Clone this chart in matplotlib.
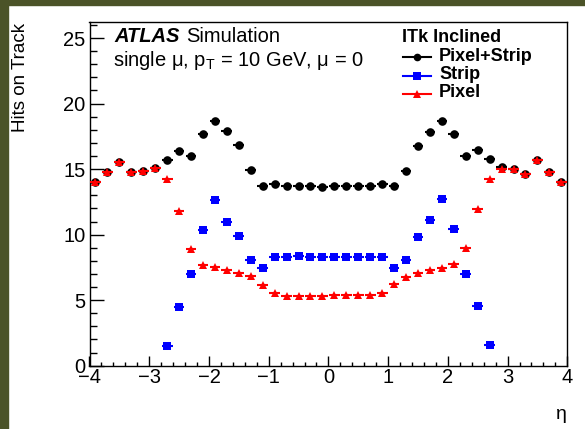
import numpy as np
import matplotlib
matplotlib.use("Agg")
import matplotlib.pyplot as plt
from matplotlib.lines import Line2D
from matplotlib.patches import Rectangle

plt.rcParams['font.family'] = ['Liberation Sans', 'DejaVu Sans']
plt.rcParams['mathtext.fontset'] = 'custom'
plt.rcParams['mathtext.rm'] = 'Liberation Sans'
plt.rcParams['mathtext.it'] = 'Liberation Sans:italic'

# ---- data (bin centres in eta, bin width 0.2) ----
eta = np.round(np.arange(-3.9, 4.0, 0.2), 1)

pixel_strip = [14.05, 14.81, 15.55, 14.81, 14.89, 15.11, 15.70, 16.39, 16.03, 17.66,
               18.65, 17.92, 16.87, 14.92, 13.69, 13.89, 13.72, 13.72, 13.69, 13.62,
               13.69, 13.69, 13.74, 13.69, 13.87, 13.69, 14.89, 16.77, 17.86, 18.70,
               17.66, 15.98, 16.49, 15.78, 15.19, 15.02, 14.63, 15.70, 14.81, 14.02]

strip = [0, 0, 0, 0, 0, 0, 1.53, 4.50, 7.02, 10.38,
         12.62, 10.97, 9.90, 8.04, 7.46, 8.32, 8.32, 8.37, 8.30, 8.30,
         8.30, 8.32, 8.32, 8.32, 8.32, 7.43, 8.04, 9.82, 11.10, 12.72,
         10.43, 7.00, 4.53, 1.60, 0, 0, 0, 0, 0, 0]

pixel = [14.05, 14.79, 15.55, 14.79, 14.86, 15.06, 14.23, 11.81, 8.93, 7.71,
         7.56, 7.33, 7.10, 6.85, 6.16, 5.52, 5.34, 5.30, 5.34, 5.28,
         5.36, 5.36, 5.36, 5.36, 5.57, 6.21, 6.77, 7.10, 7.33, 7.43,
         7.74, 8.98, 11.96, 14.23, 14.99, 15.02, 14.63, 15.70, 14.81, 14.02]

series_names = ["Pixel+Strip", "Strip", "Pixel"]
x_ticks = [-4, -3, -2, -1, 0, 1, 2, 3, 4]
y_ticks = [0, 5, 10, 15, 20, 25]

W, H = 585, 429
def fx(px): return px / W
def fy(py): return 1 - py / H

fig = plt.figure(figsize=(5.85, 4.29), dpi=100)
# dark frame bands of the screenshot
fig.patches.append(Rectangle((0, 0), fx(8), 1, transform=fig.transFigure,
                             color='#4b5328', zorder=0))
fig.patches.append(Rectangle((0, fy(5)), 1, fy(0) - fy(5), transform=fig.transFigure,
                             color='#4b5328', zorder=0))

ax = fig.add_axes([fx(89.5), fy(365.7), fx(567.3) - fx(89.5), fy(22.3) - fy(365.7)])

xe = 0.09
ps = np.array(pixel_strip, dtype=float)
st = np.array(strip, dtype=float)
st = np.where(st > 0, st, np.nan)
px = np.array(pixel, dtype=float)

ax.errorbar(eta, ps, xerr=xe, fmt='o', color='black', ms=6.2, mew=0,
            elinewidth=1.5, capsize=0, zorder=3)
ax.errorbar(eta, st, xerr=xe, fmt='s', color='#0000ff', ms=5.8, mew=0,
            elinewidth=1.5, capsize=0, zorder=4)
ax.errorbar(eta, px, xerr=xe, fmt='^', color='#ff0000', ms=6.2, mew=0,
            elinewidth=1.5, capsize=0, zorder=5)

ax.set_xlim(-4, 4)
ax.set_ylim(0, 26.2)
ax.set_xticks(x_ticks)
ax.set_yticks(y_ticks)
ax.set_xticks(np.arange(-4, 4.01, 0.2), minor=True)
ax.set_yticks(np.arange(0, 26.1, 1), minor=True)
ax.tick_params(axis='x', which='major', direction='in', length=7, width=1, labelsize=14.5, pad=2,
               top=False)
ax.tick_params(axis='x', which='minor', direction='in', length=3, width=1, top=False)
ax.tick_params(axis='y', which='major', direction='in', length=10, width=1, labelsize=14.5, pad=3,
               right=False)
ax.tick_params(axis='y', which='minor', direction='in', length=5, width=1, right=False)
for s in ax.spines.values():
    s.set_linewidth(1.0)

# axis titles
fig.text(fx(21), fy(22.5), 'Hits on Track', rotation=90, ha='center', va='top', fontsize=13.5)
fig.text(fx(567), fy(419), 'η', ha='right', va='baseline', fontsize=14)

# ATLAS label
fig.text(fx(114), fy(42.3), 'ATLAS', fontweight='bold', style='italic', fontsize=14.5,
         va='baseline')
fig.text(fx(186), fy(42.3), 'Simulation', fontsize=14.5, va='baseline')
fig.text(fx(113), fy(65.7), 'single μ, p$_{\\mathrm{T}}$ = 10 GeV, μ = 0', fontsize=14.5,
         va='baseline')

# legend
fig.text(fx(402), fy(42.3), 'ITk Inclined', fontweight='bold', fontsize=13, va='baseline')
leg_colors = ['black', '#0000ff', '#ff0000']
leg_markers = ['o', 's', '^']
leg_line_y = [57.3, 76, 94]
leg_text_y = [60.7, 79.3, 96.7]
for name, c, m, ly, ty in zip(series_names, leg_colors, leg_markers, leg_line_y, leg_text_y):
    fig.add_artist(Line2D([fx(403), fx(431)], [fy(ly), fy(ly)], color=c, lw=1.5,
                          transform=fig.transFigure))
    fig.add_artist(Line2D([fx(417)], [fy(ly)], color=c, marker=m, ms=5.5, mew=0,
                          transform=fig.transFigure))
    fig.text(fx(439), fy(ty), name, fontweight='bold', fontsize=13, va='baseline')

fig.savefig('out.png', dpi=100)
